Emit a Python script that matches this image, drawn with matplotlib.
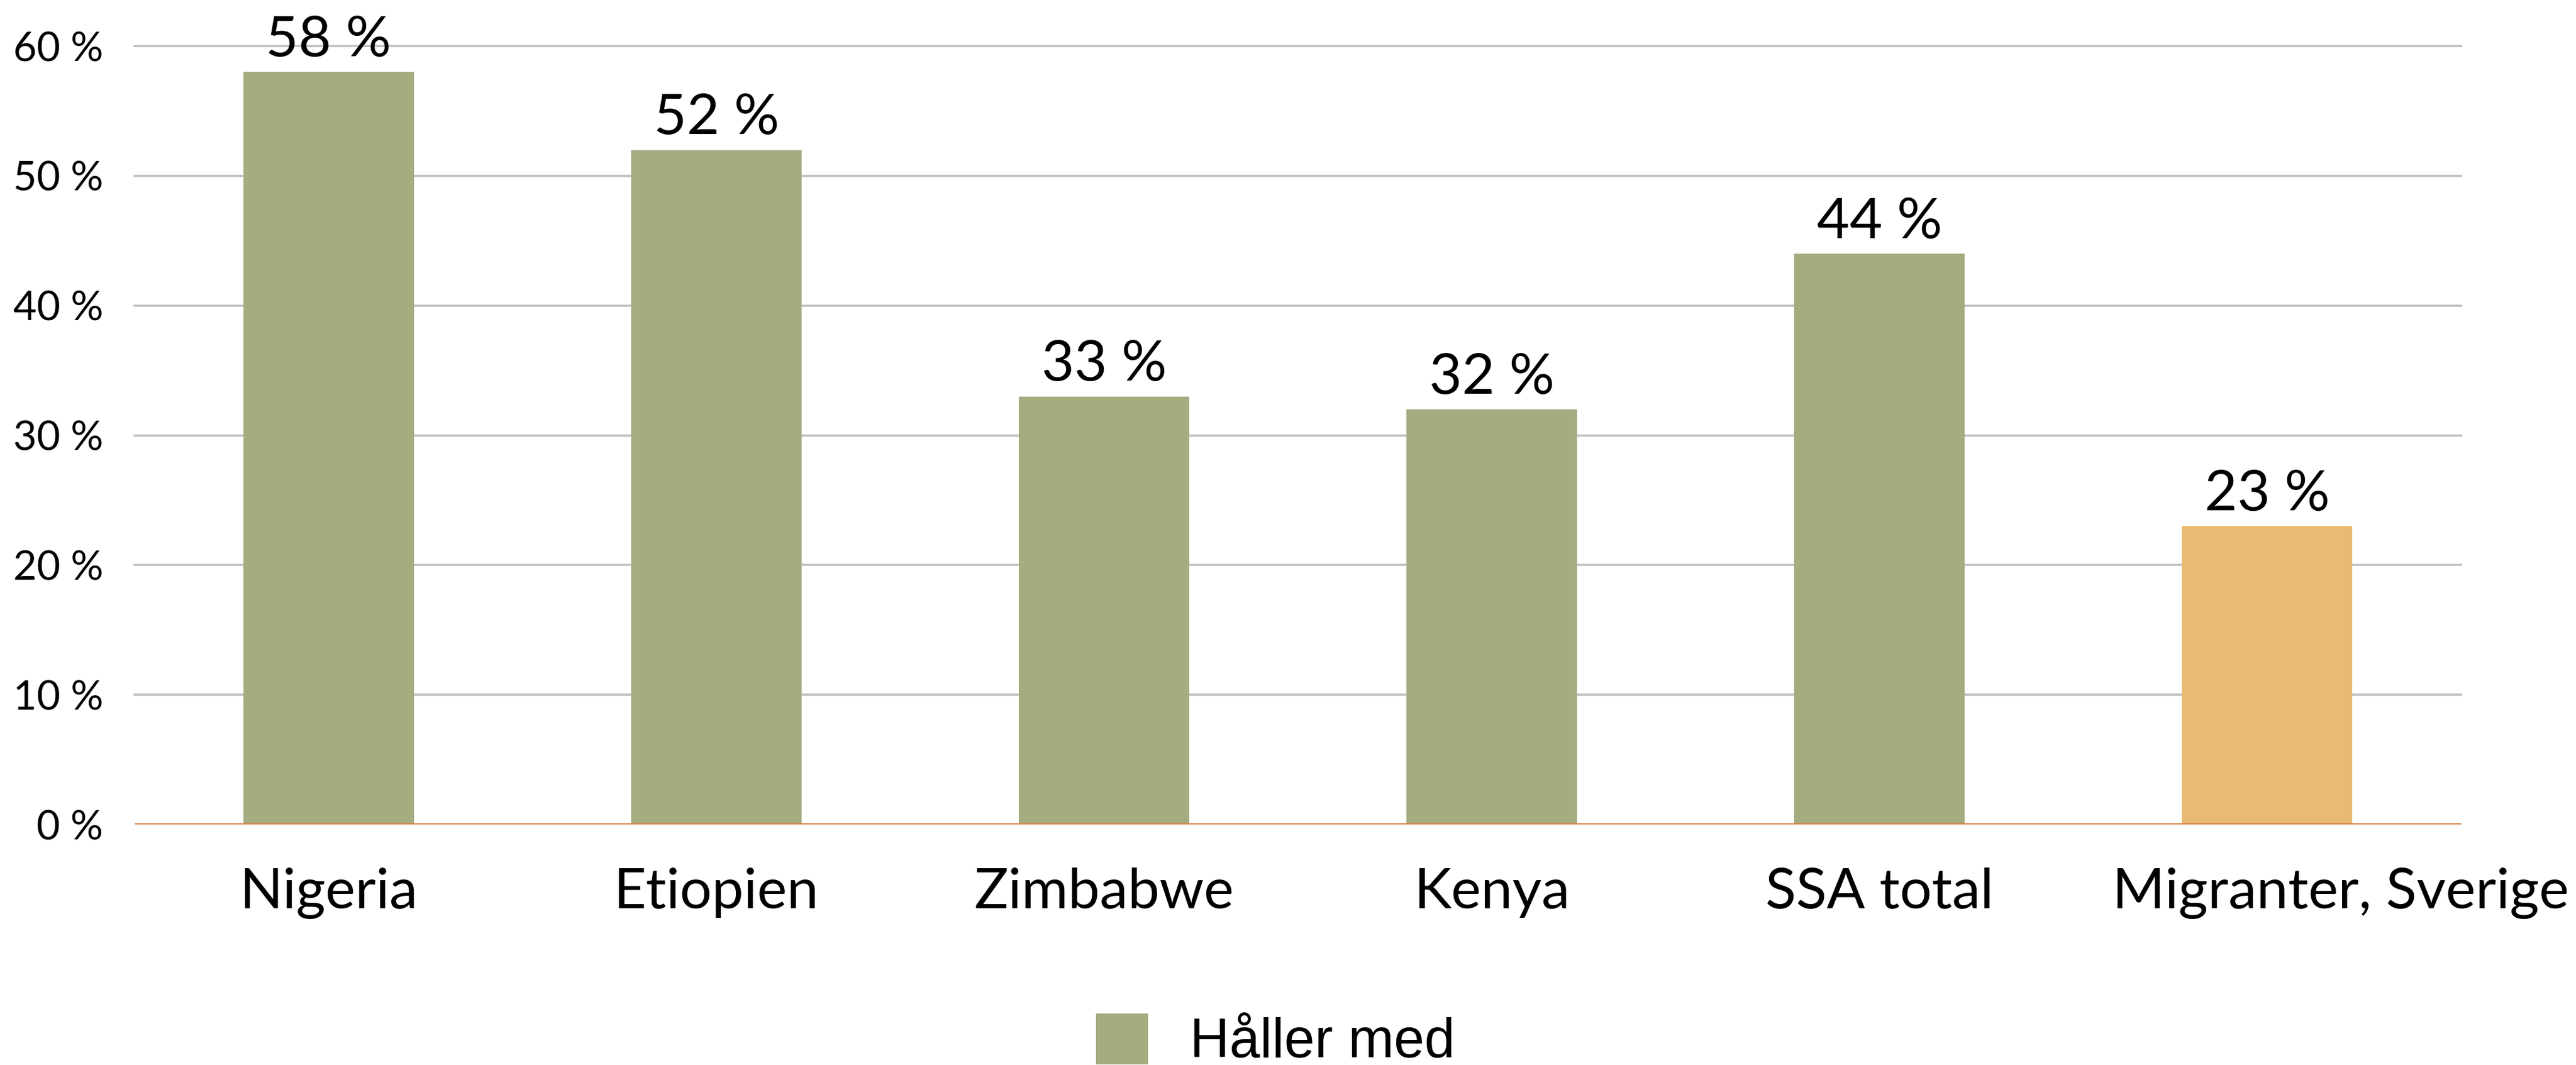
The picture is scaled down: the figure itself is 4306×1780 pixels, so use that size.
import matplotlib
matplotlib.use("Agg")
import matplotlib.pyplot as plt
import matplotlib.transforms as mtransforms
from matplotlib.patches import Patch

categories = ["Nigeria", "Etiopien", "Zimbabwe", "Kenya", "SSA total", "Migranter, Sverige"]
values = [58, 52, 33, 32, 44, 23]
bar_colors = ["#A4AC80", "#A4AC80", "#A4AC80", "#A4AC80", "#A4AC80", "#E8BA73"]
yticks = [0, 10, 20, 30, 40, 50, 60]
ytick_labels = [f"{t} %" for t in yticks]
legend_label = "Håller med"

FONT = ["Lato", "DejaVu Sans"]
plt.rcParams["font.family"] = FONT

fig = plt.figure(figsize=(21.53, 8.9), dpi=200)
ax = fig.add_axes([0.0523, 0.2258, 0.9031, 0.7309])

x = list(range(len(categories)))
bars = ax.bar(x, values, width=0.44, color=bar_colors, zorder=2)

ax.set_xlim(-0.5, len(categories) - 0.5)
ax.set_ylim(0, 60)
ax.set_yticks(yticks)
ax.set_yticklabels(ytick_labels, fontsize=24.5)
ax.set_xticks(x)
ax.set_xticklabels(categories, fontsize=34)
ax.tick_params(axis="y", length=0, pad=19)
ax.tick_params(axis="x", length=0, pad=26)

# last category label sits shifted right in the reference
last = ax.get_xticklabels()[-1]
last.set_transform(last.get_transform() + mtransforms.ScaledTranslation(44 / 72, 0, fig.dpi_scale_trans))

for t in yticks[1:]:
    ax.axhline(t, color="#BFBFBF", linewidth=1.3, zorder=1, clip_on=False)
ax.axhline(0, color="#DE844C", linewidth=1.6, zorder=3)

for s in ax.spines.values():
    s.set_visible(False)

for xi, v in zip(x, values):
    ax.annotate(f"{v} %", xy=(xi, v), xytext=(0, 9.5), textcoords="offset points",
                ha="center", va="baseline", fontsize=34, annotation_clip=False)

handle = Patch(facecolor="#A4AC80", edgecolor="none")
fig.legend([handle], [legend_label], loc="center", bbox_to_anchor=(2132 / 4306, 1 - 1740 / 1780),
           frameon=False, prop={"family": ["Liberation Sans", "DejaVu Sans"], "size": 33},
           handlelength=0.95, handleheight=1.05, handletextpad=0.77, borderpad=0, borderaxespad=0)

fig.savefig("out.png", dpi=200)
